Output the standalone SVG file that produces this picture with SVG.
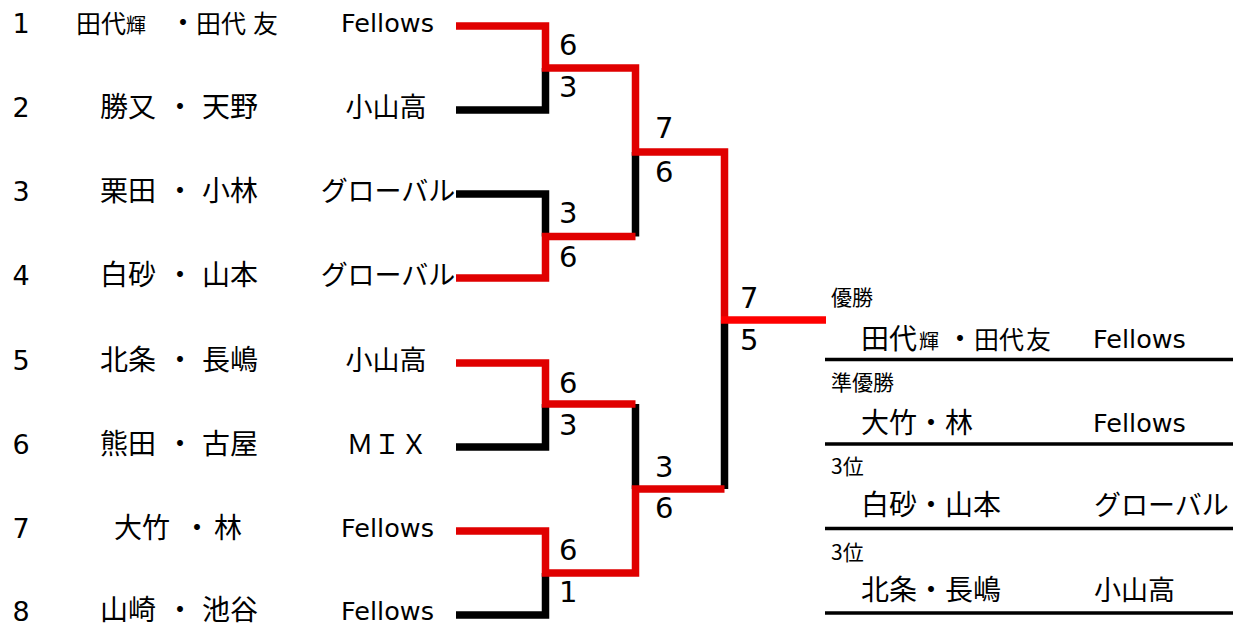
<svg xmlns="http://www.w3.org/2000/svg" width="1233" height="626" viewBox="0 0 1233 626">
<style>
.num{font-family:"DejaVu Sans",sans-serif;font-size:27px;fill:#000;text-anchor:middle}
.nm{font-family:"Noto Sans CJK JP",sans-serif;font-size:28px;fill:#000}
.sm{font-size:20px}
.md{font-size:25px}
.tl{font-family:"DejaVu Sans","Noto Sans CJK JP",sans-serif;font-size:25.5px;fill:#000;text-anchor:middle}
.tk{font-family:"Noto Sans CJK JP",sans-serif;font-size:27px;fill:#000;text-anchor:middle}
.tls{font-family:"DejaVu Sans","Noto Sans CJK JP",sans-serif;font-size:25.5px;fill:#000}
.tks{font-family:"Noto Sans CJK JP",sans-serif;font-size:27px;fill:#000}
.sc{font-family:"DejaVu Sans",sans-serif;font-size:29px;fill:#000}
.lb{font-family:"Noto Sans CJK JP",sans-serif;font-size:21px;fill:#000}
.blk{fill:none;stroke:#000;stroke-width:7.5;stroke-linejoin:miter}
.red{fill:none;stroke:#e00000;stroke-width:7.5;stroke-linejoin:miter}
.red2{fill:none;stroke:#ff0000;stroke-width:7.5}
.rule{stroke:#000;stroke-width:3.5}
</style>
<rect width="1233" height="626" fill="#fff"/>

<g id="connectors">
  <path class="blk" d="M456,110 H545.5 V68"/>
  <path class="blk" d="M456,194 H545.5 V236.5"/>
  <path class="blk" d="M456,447 H545.5 V404"/>
  <path class="blk" d="M456,615 H545.5 V573"/>
  <path class="blk" d="M635.5,236.5 V152"/>
  <path class="blk" d="M635.5,404 V489"/>
  <path class="blk" d="M724.5,489 V320"/>
  <path class="red" d="M456,26 H545.5 V68 H635.5 V152 H724.5 V320"/>
  <path class="red" d="M456,278 H545.5 V236.5 H635.5"/>
  <path class="red" d="M456,363 H545.5 V404 H635.5"/>
  <path class="red" d="M456,531 H545.5 V573 H635.5 V489 H724.5"/>
  <path class="red2" d="M721,320 H826"/>
</g>

<g id="entry1">
  <text class="num" x="21" y="33">1</text>
  <text class="nm"><tspan class="md" x="76" y="33">田代</tspan><tspan class="sm" x="126" y="33">輝</tspan><tspan x="169" y="33">・</tspan><tspan class="md" x="196" y="33">田代</tspan><tspan class="md" x="253" y="33">友</tspan></text>
  <text class="tl" x="387.5" y="32">Fellows</text>
</g>
<g id="entry2">
  <text class="num" x="21" y="117">2</text>
  <text class="nm" y="117"><tspan x="100">勝又</tspan><tspan x="166">・</tspan><tspan x="202">天野</tspan></text>
  <text class="tk" x="386" y="117">小山高</text>
</g>
<g id="entry3">
  <text class="num" x="21" y="201">3</text>
  <text class="nm" y="201"><tspan x="100">栗田</tspan><tspan x="166">・</tspan><tspan x="202">小林</tspan></text>
  <text class="tk" x="388" y="201">グローバル</text>
</g>
<g id="entry4">
  <text class="num" x="21" y="285">4</text>
  <text class="nm" y="285"><tspan x="100">白砂</tspan><tspan x="166">・</tspan><tspan x="202">山本</tspan></text>
  <text class="tk" x="388" y="285">グローバル</text>
</g>
<g id="entry5">
  <text class="num" x="21" y="370">5</text>
  <text class="nm" y="370"><tspan x="100">北条</tspan><tspan x="166">・</tspan><tspan x="202">長嶋</tspan></text>
  <text class="tk" x="386" y="370">小山高</text>
</g>
<g id="entry6">
  <text class="num" x="21" y="454">6</text>
  <text class="nm" y="454"><tspan x="100">熊田</tspan><tspan x="166">・</tspan><tspan x="202">古屋</tspan></text>
  <text class="tk" x="387" y="454">ＭＩＸ</text>
</g>
<g id="entry7">
  <text class="num" x="21" y="538">7</text>
  <text class="nm" y="538"><tspan x="114">大竹</tspan><tspan x="183">・</tspan><tspan x="214">林</tspan></text>
  <text class="tl" x="387.5" y="537">Fellows</text>
</g>
<g id="entry8">
  <text class="num" x="21" y="620.5">8</text>
  <text class="nm" y="620"><tspan x="100">山崎</tspan><tspan x="166">・</tspan><tspan x="202">池谷</tspan></text>
  <text class="tl" x="387.5" y="620">Fellows</text>
</g>

<g id="scores">
  <text class="sc" x="559" y="55">6</text>
  <text class="sc" x="559" y="97">3</text>
  <text class="sc" x="559" y="223">3</text>
  <text class="sc" x="559" y="266.5">6</text>
  <text class="sc" x="559" y="393">6</text>
  <text class="sc" x="559" y="435">3</text>
  <text class="sc" x="559" y="560">6</text>
  <text class="sc" x="559" y="601.5">1</text>
  <text class="sc" x="655" y="138">7</text>
  <text class="sc" x="655" y="181.5">6</text>
  <text class="sc" x="655" y="476.5">3</text>
  <text class="sc" x="655" y="518">6</text>
  <text class="sc" x="740" y="308">7</text>
  <text class="sc" x="740" y="350">5</text>
</g>

<g id="results">
  <text class="lb" x="831" y="305">優勝</text>
  <text class="nm" y="349"><tspan x="861">田代</tspan><tspan class="sm" x="919">輝</tspan><tspan x="946">・</tspan><tspan class="md" x="974">田代</tspan><tspan class="md" x="1026">友</tspan></text>
  <text class="tls" x="1093" y="348">Fellows</text>
  <line class="rule" x1="825" y1="359.5" x2="1233" y2="359.5"/>
  <text class="lb" x="831" y="389.5">準優勝</text>
  <text class="nm" x="861" y="433">大竹・林</text>
  <text class="tls" x="1093" y="432">Fellows</text>
  <line class="rule" x1="825" y1="444" x2="1233" y2="444"/>
  <text class="lb" x="831" y="474">3位</text>
  <text class="nm" x="861" y="515">白砂・山本</text>
  <text class="tks" x="1094" y="515">グローバル</text>
  <line class="rule" x1="825" y1="528.5" x2="1233" y2="528.5"/>
  <text class="lb" x="831" y="560">3位</text>
  <text class="nm" x="861" y="600">北条・長嶋</text>
  <text class="tks" x="1094" y="600">小山高</text>
  <line class="rule" x1="825" y1="613" x2="1233" y2="613"/>
</g>
</svg>
